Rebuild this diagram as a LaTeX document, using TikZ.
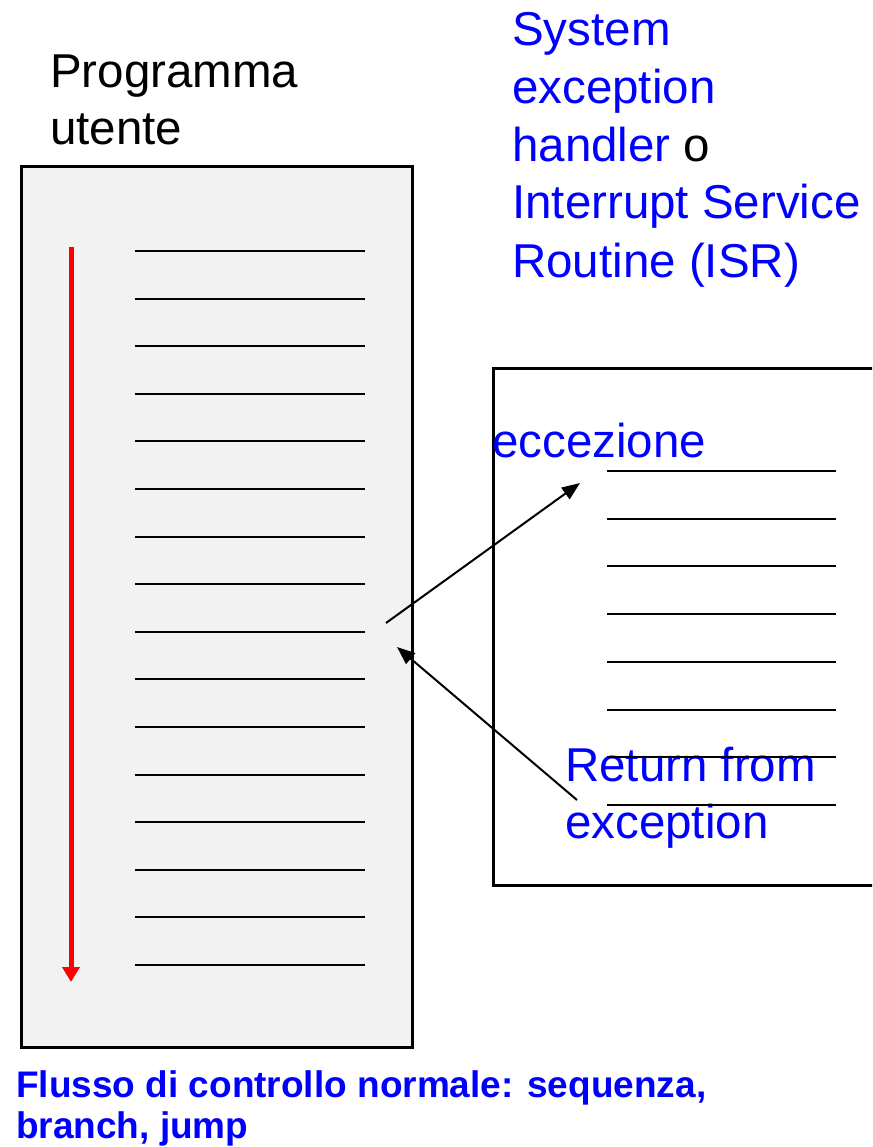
\documentclass[tikz,border=0pt]{standalone}
\usepackage{fontspec}
\setmainfont{Liberation Sans}
\usetikzlibrary{positioning}
\usetikzlibrary{arrows.meta}
\definecolor{sfondo}{HTML}{F2F2F2}
\definecolor{blu}{HTML}{0000FF}
\definecolor{rosso}{HTML}{FF0000}
\tikzset{
  riga/.style={line width=2pt},
  scatola/.style={draw, line width=3pt, anchor=north west, inner sep=0pt},
  testo/.style={anchor=base west, inner sep=0pt, font=\fontsize{47.5}{57}\selectfont},
  nota/.style={testo, text=blu},
  didascalia/.style={anchor=base west, inner sep=0pt, text=blu, font=\fontsize{37}{45}\selectfont\bfseries},
  freccia/.style={line width=2pt, -{Triangle[length=18pt,width=14pt]}},
}
\begin{document}
\begin{tikzpicture}[x=1pt,y=-1pt]
        \useasboundingbox (0,0) rectangle (872,1147);
        \clip (0,0) rectangle (872,1147);

        % programma utente
        \node[scatola, fill=sfondo, minimum width=391pt, minimum height=881pt] (prog) at (20,165) {};
        \node[testo] (titolo1) at (50,88) {Programma};
        \node[testo] (titolo2) at (50,145) {utente};
        \foreach \i in {0,...,15}
            \draw[riga] (135,{251+47.6*\i}) -- (365,{251+47.6*\i});
        \draw[line width=5pt, rosso, -{Triangle[length=15pt,width=17pt]}] (71,247) -- (71,982);

        % gestore
        \node[scatola, minimum width=420pt, minimum height=517pt] (isr) at (492,367) {};
        \node[nota] (isr1) at (512,46) {System};
        \node[nota] (isr2) at (512,104) {exception};
        \node[nota] (isr3) at (512,162) {handler \textcolor{black}{o}};
        \node[nota] (isr4) at (512,219) {Interrupt Service};
        \node[nota] (isr5) at (512,277) {Routine (ISR)};
        \node[nota] (ecc) at (492,457) {eccezione};
        \node[nota] (ret1) at (565,781) {Return from};
        \node[nota] (ret2) at (565,838) {exception};
        \foreach \i in {0,...,7}
            \draw[riga] (607,{471+47.7*\i}) -- (836,{471+47.7*\i});

        % salto e ritorno
        \coordinate (salto) at (386,623);
        \coordinate (ingresso) at (580,483);
        \coordinate (ritorno) at (577,800);
        \coordinate (rientro) at (397,647);
        \draw[freccia] (salto) -- (ingresso);
        \draw[freccia] (ritorno) -- (rientro);

        \node[didascalia] (flusso1) at (16,1097) {Flusso di controllo normale: sequenza,};
        \node[didascalia] (flusso2) at (16,1138) {branch, jump};
\end{tikzpicture}
\end{document}
